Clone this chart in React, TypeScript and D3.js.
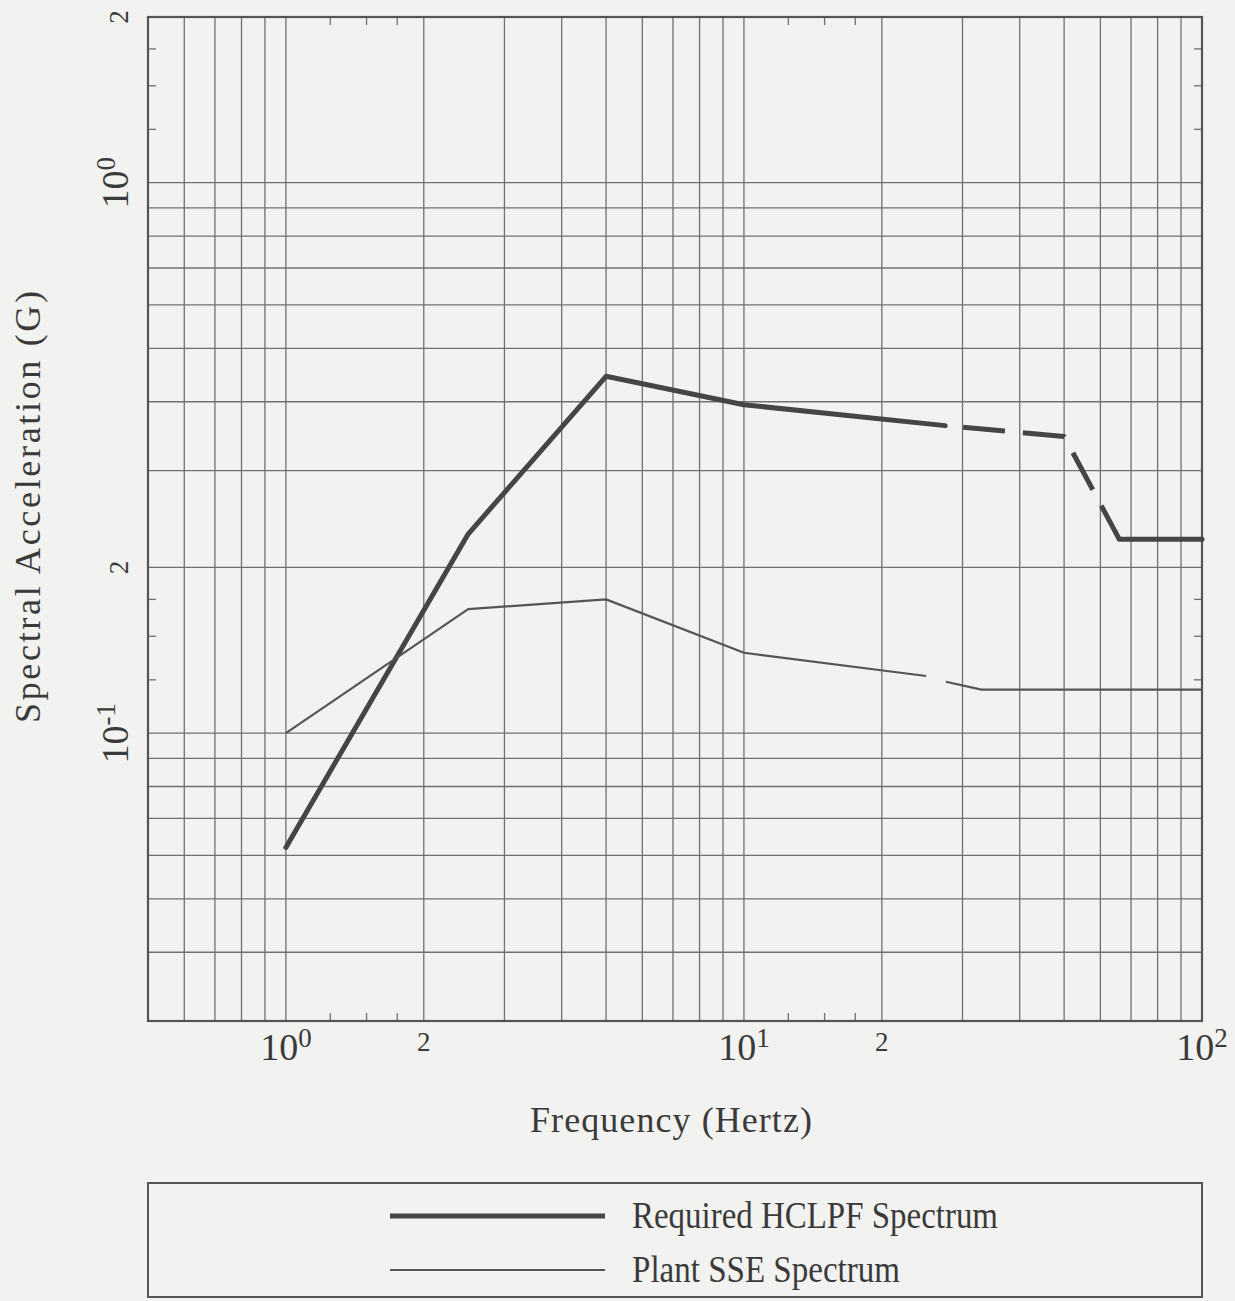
import React from "react";
import * as d3 from "d3";

// ---- data ----
const hclpfSolidFreq = [1, 2.5, 5, 10, 27.5];
const hclpfSolidVal = [0.062, 0.23, 0.445, 0.395, 0.362];
const hclpfDashFreq = [27.5, 50, 66];
const hclpfDashVal = [0.362, 0.346, 0.225];
const hclpfTailFreq = [66, 100];
const hclpfTailVal = [0.225, 0.225];

const sseFreqA = [1, 2.5, 5, 10, 25];
const sseValA = [0.1, 0.168, 0.175, 0.14, 0.127];
const sseFreqB = [27.6, 33, 100];
const sseValB = [0.124, 0.12, 0.12];

const xGridValues = [0.6, 0.7, 0.8, 0.9, 1, 2, 3, 4, 5, 6, 7, 8, 9, 10, 20, 30, 40, 50, 60, 70, 80, 90];
const xMinorTicks = [1.25, 1.5, 1.75, 12.5, 15, 17.5];
const yGridValues = [0.04, 0.05, 0.06, 0.07, 0.08, 0.09, 0.1, 0.2, 0.3, 0.4, 0.5, 0.6, 0.7, 0.8, 0.9, 1];
const yMinorTicks = [0.125, 0.15, 0.175, 1.25, 1.5, 1.75];

const xTickValues = [1, 2, 10, 20, 100];
const xTickBase = ["10", "2", "10", "2", "10"];
const xTickExp = ["0", "", "1", "", "2"];
const yTickValues = [2, 1, 0.2, 0.1];
const yTickBase = ["2", "10", "2", "10"];
const yTickExp = ["", "0", "", "-1"];

const legendLabels = ["Required HCLPF Spectrum", "Plant SSE Spectrum"];

const W = 1235;
const H = 1301;
const L = 148, R = 1202, T = 17, B = 1021;

const FONT = "'Liberation Serif', 'DejaVu Serif', serif";
const INK = "#3a3a3a";
const GRID = "#707070";

export default function App() {
  const x = d3.scaleLog().domain([0.5, 100]).range([L, R]);
  const y = d3.scaleLog().domain([0.03, 2]).range([B, T]);

  const line = d3
    .line<[number, number]>()
    .x((d) => x(d[0]))
    .y((d) => y(d[1]));

  const zip = (a: number[], b: number[]) => a.map((v, i) => [v, b[i]] as [number, number]);

  return (
    <svg
      width={W}
      height={H}
      viewBox={`0 0 ${W} ${H}`}
      style={{ position: "absolute", left: 0, top: 0, display: "block" }}
    >
      <rect x={0} y={0} width={W} height={H} fill="#f2f2f0" />

      {/* grid */}
      <g stroke={GRID} strokeWidth={1.3}>
        {xGridValues.map((v) => (
          <line key={"xg" + v} x1={x(v)} x2={x(v)} y1={T} y2={B} />
        ))}
        {yGridValues.map((v) => (
          <line key={"yg" + v} x1={L} x2={R} y1={y(v)} y2={y(v)} />
        ))}
        {xMinorTicks.map((v) => (
          <g key={"xm" + v}>
            <line x1={x(v)} x2={x(v)} y1={B} y2={B - 8} />
            <line x1={x(v)} x2={x(v)} y1={T} y2={T + 8} />
          </g>
        ))}
        {yMinorTicks.map((v) => (
          <g key={"ym" + v}>
            <line x1={L} x2={L + 8} y1={y(v)} y2={y(v)} />
            <line x1={R} x2={R - 8} y1={y(v)} y2={y(v)} />
          </g>
        ))}
      </g>
      <rect x={L} y={T} width={R - L} height={B - T} fill="none" stroke="#555" strokeWidth={2.2} />

      {/* series */}
      <g fill="none" stroke="#454545" strokeLinejoin="round" strokeLinecap="round">
        <path d={line(zip(hclpfSolidFreq, hclpfSolidVal)) || ""} strokeWidth={5} />
        <path
          d={line(zip(hclpfDashFreq, hclpfDashVal)) || ""}
          strokeWidth={5}
          strokeLinecap="butt"
          strokeDasharray="42 18"
          strokeDashoffset={42}
        />
        <path d={line(zip(hclpfTailFreq, hclpfTailVal)) || ""} strokeWidth={5} />
      </g>
      <g fill="none" stroke="#555" strokeLinejoin="round">
        <path d={line(zip(sseFreqA, sseValA)) || ""} strokeWidth={2.2} />
        <path d={line(zip(sseFreqB, sseValB)) || ""} strokeWidth={2.2} />
      </g>

      {/* x tick labels */}
      <g fontFamily={FONT} fill={INK} textAnchor="middle">
        {xTickValues.map((v, i) =>
          xTickExp[i] ? (
            <text key={"xt" + v} x={x(v)} y={1060} fontSize={38}>
              {xTickBase[i]}
              <tspan fontSize={27} dy={-13}>
                {xTickExp[i]}
              </tspan>
            </text>
          ) : (
            <text key={"xt" + v} x={x(v)} y={1051} fontSize={27}>
              {xTickBase[i]}
            </text>
          )
        )}
      </g>

      {/* y tick labels (rotated) */}
      <g fontFamily={FONT} fill={INK} textAnchor="middle">
        {yTickValues.map((v, i) => (
          <text
            key={"yt" + v}
            transform={`translate(128,${y(v)}) rotate(-90)`}
            fontSize={yTickExp[i] ? 38 : 27}
          >
            {yTickBase[i]}
            {yTickExp[i] ? (
              <tspan fontSize={27} dy={-13}>
                {yTickExp[i]}
              </tspan>
            ) : null}
          </text>
        ))}
      </g>

      {/* axis titles */}
      <text
        x={(L + R) / 2 - 4}
        y={1132}
        fontFamily={FONT}
        fontSize={36}
        fill={INK}
        textAnchor="middle"
        textLength={282}
        lengthAdjust="spacing"
      >
        Frequency (Hertz)
      </text>
      <text
        transform={`translate(40,507) rotate(-90)`}
        fontFamily={FONT}
        fontSize={36}
        fill={INK}
        textAnchor="middle"
        textLength={432}
        lengthAdjust="spacing"
      >
        Spectral Acceleration (G)
      </text>

      {/* legend */}
      <rect x={L} y={1183} width={R - L} height={114} fill="none" stroke="#555" strokeWidth={2} />
      <line x1={390} x2={605} y1={1216} y2={1216} stroke="#454545" strokeWidth={5} />
      <line x1={390} x2={605} y1={1270} y2={1270} stroke="#555" strokeWidth={2.2} />
      <g fontFamily={FONT} fill={INK} fontSize={38}>
        <text x={632} y={1228} textLength={366} lengthAdjust="spacingAndGlyphs">
          {legendLabels[0]}
        </text>
        <text x={632} y={1282} textLength={268} lengthAdjust="spacingAndGlyphs">
          {legendLabels[1]}
        </text>
      </g>
    </svg>
  );
}
